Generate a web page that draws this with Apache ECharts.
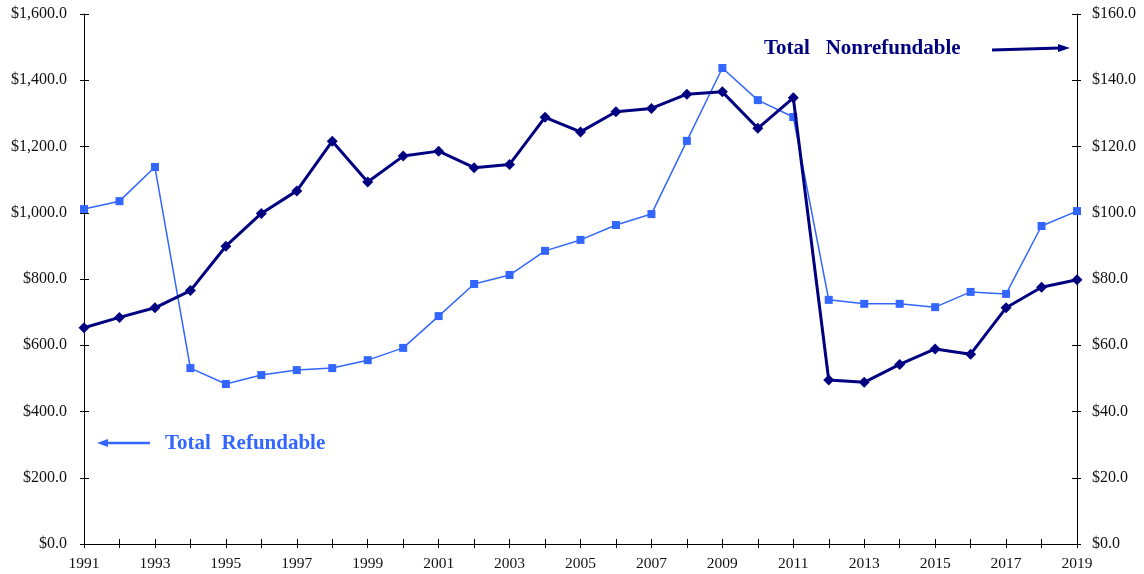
<!DOCTYPE html>
<html>
<head>
<meta charset="utf-8">
<script src="https://cdn.jsdelivr.net/npm/echarts@6/dist/echarts.min.js"></script>
<style>html,body{margin:0;padding:0;background:#fff}#c{width:1144px;height:574px}</style>
</head>
<body>
<div id="c"></div>
<script>
const years = ['1991','1992','1993','1994','1995','1996','1997','1998','1999','2000','2001','2002','2003','2004','2005','2006','2007','2008','2009','2010','2011','2012','2013','2014','2015','2016','2017','2018','2019'];
// Left axis
const refundable = [1011,1035,1138,531,483,510,525,531,555,592,688,785,812,885,918,963,996,1217,1437,1340,1289,737,725,725,715,761,755,960,1005];
// Right axis
const nonrefundable = [65.3,68.4,71.3,76.5,89.9,99.8,106.6,121.6,109.3,117.1,118.6,113.6,114.6,128.8,124.4,130.5,131.5,135.8,136.5,125.5,134.7,49.5,48.8,54.2,58.9,57.3,71.3,77.5,79.8];
const leftTicks = {min:0, max:1600, interval:200};
const rightTicks = {min:0, max:160, interval:20};

const FONT = '"Liberation Serif", "Times New Roman", serif';
const NAVY = '#000080';
const BLUE = '#3366FF';
const chart = echarts.init(document.getElementById('c'));
const money = v => '$' + v.toLocaleString('en-US', {minimumFractionDigits:1, maximumFractionDigits:1});
const lineStyle = {color:'#000', width:1};
chart.setOption({
  animation:false,
  grid:{left:84, right:67, top:14, bottom:30},
  xAxis:[
    {type:'category', data:years, boundaryGap:false,
     axisLine:{lineStyle}, axisTick:{interval:0, length:4, lineStyle},
     axisLabel:{interval:1, margin:12, fontFamily:FONT, fontSize:15.5, color:'#111'},
     splitLine:{show:false}},
    {type:'category', data:years, boundaryGap:false, position:'bottom',
     axisLine:{show:false}, axisTick:{interval:0, inside:true, length:5, lineStyle},
     axisLabel:{show:false}, splitLine:{show:false}}
  ],
  yAxis:[
    {type:'value', position:'left', ...leftTicks,
     axisLine:{show:true, lineStyle}, axisTick:{show:true, length:4, lineStyle},
     axisLabel:{formatter:money, margin:17, fontFamily:FONT, fontSize:16, color:'#111'},
     splitLine:{show:false}},
    {type:'value', position:'right', ...rightTicks,
     axisLine:{show:true, lineStyle}, axisTick:{show:true, length:4, lineStyle},
     axisLabel:{formatter:money, margin:15, fontFamily:FONT, fontSize:16, color:'#111'},
     splitLine:{show:false}},
    {type:'value', position:'left', ...leftTicks,
     axisLine:{show:false}, axisTick:{show:true, inside:true, length:5, lineStyle},
     axisLabel:{show:false}, splitLine:{show:false}},
    {type:'value', position:'right', ...rightTicks,
     axisLine:{show:false}, axisTick:{show:true, inside:true, length:5, lineStyle},
     axisLabel:{show:false}, splitLine:{show:false}}
  ],
  series:[
    {name:'Total Refundable', type:'line', data:refundable, yAxisIndex:0, xAxisIndex:0,
     symbol:'rect', symbolSize:8, lineStyle:{color:BLUE, width:1.5}, itemStyle:{color:BLUE}, z:2},
    {name:'Total Nonrefundable', type:'line', data:nonrefundable, yAxisIndex:1, xAxisIndex:0,
     symbol:'diamond', symbolSize:11, lineStyle:{color:NAVY, width:3}, itemStyle:{color:NAVY}, z:3}
  ],
  graphic:[
    {type:'text', style:{x:764, y:49, text:'Total   Nonrefundable', font:'bold 21px ' + FONT, fill:NAVY, verticalAlign:'middle'}},
    {type:'line', shape:{x1:992, y1:50, x2:1060, y2:48}, style:{stroke:NAVY, lineWidth:3}},
    {type:'polygon', shape:{points:[[1070,48],[1058,44],[1058,52]]}, style:{fill:NAVY}},
    {type:'text', style:{x:165, y:444, text:'Total  Refundable', font:'bold 21px ' + FONT, fill:BLUE, verticalAlign:'middle'}},
    {type:'line', shape:{x1:150, y1:443, x2:106, y2:443}, style:{stroke:BLUE, lineWidth:2.5}},
    {type:'polygon', shape:{points:[[97,443],[108,439],[108,447]]}, style:{fill:BLUE}}
  ]
});
</script>
</body>
</html>
